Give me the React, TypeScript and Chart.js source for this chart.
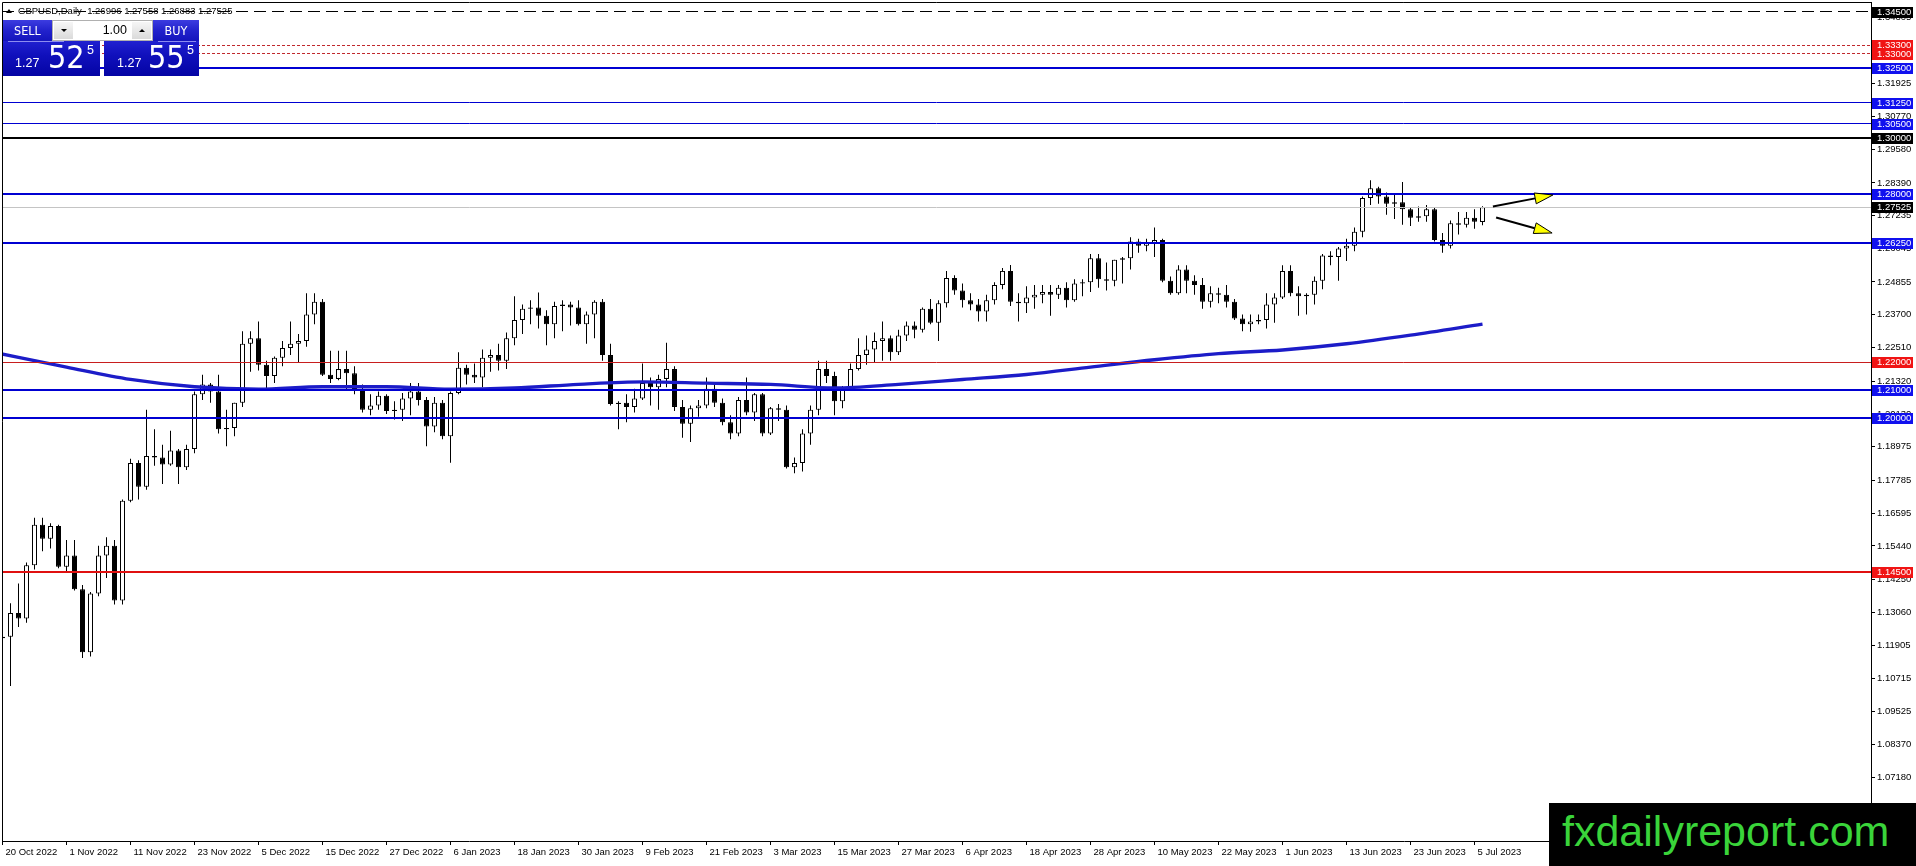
import React, { useEffect, useRef } from 'react';
import { Chart, registerables } from 'chart.js';

Chart.register(...registerables);

type OHLC = [number, number, number, number]; // open, high, low, close

const SYMBOL = 'GBPUSD';
const TIMEFRAME = 'Daily';
const BID = 1.27525;
const ASK = 1.27555;
const LOT = '1.00';

const OCT_2022: OHLC[] = [
  [1.1215, 1.1337, 1.1160, 1.1220],
  [1.1220, 1.1340, 1.1045, 1.1305],
  [1.1305, 1.1410, 1.1255, 1.1285],
  [1.1285, 1.1485, 1.1270, 1.1475],
  [1.1475, 1.1645, 1.1460, 1.1620],
  [1.1620, 1.1645, 1.1525, 1.1570],
  [1.1570, 1.1625, 1.1535, 1.1615],
  [1.1615, 1.1620, 1.1465, 1.1470],
];
const NOV_2022: OHLC[] = [
  [1.1470, 1.1565, 1.1450, 1.1510],
  [1.1510, 1.1565, 1.1385, 1.1390],
  [1.1390, 1.1405, 1.1145, 1.1165],
  [1.1165, 1.1380, 1.1150, 1.1375],
  [1.1375, 1.1545, 1.1365, 1.1510],
  [1.1510, 1.1575, 1.1430, 1.1545],
  [1.1545, 1.1565, 1.1335, 1.1350],
  [1.1350, 1.1710, 1.1335, 1.1705],
  [1.1705, 1.1855, 1.1700, 1.1840],
  [1.1840, 1.1850, 1.1710, 1.1755],
  [1.1755, 1.2030, 1.1745, 1.1865],
  [1.1865, 1.1960, 1.1830, 1.1860],
  [1.1860, 1.1905, 1.1765, 1.1835],
  [1.1835, 1.1955, 1.1830, 1.1885],
  [1.1885, 1.1890, 1.1765, 1.1825],
  [1.1825, 1.1905, 1.1815, 1.1890],
  [1.1890, 1.2095, 1.1875, 1.2085],
  [1.2085, 1.2155, 1.2065, 1.2120],
  [1.2120, 1.2125, 1.2055, 1.2095],
  [1.2095, 1.2155, 1.1945, 1.1960],
  [1.1960, 1.2030, 1.1900, 1.1965],
  [1.1965, 1.2055, 1.1935, 1.2055],
];
const DEC_2022: OHLC[] = [
  [1.2055, 1.2310, 1.2040, 1.2265],
  [1.2265, 1.2310, 1.2165, 1.2285],
  [1.2285, 1.2345, 1.2170, 1.2190],
  [1.2190, 1.2205, 1.2105, 1.2150],
  [1.2150, 1.2220, 1.2125, 1.2215],
  [1.2215, 1.2275, 1.2185, 1.2250],
  [1.2250, 1.2345, 1.2225, 1.2265],
  [1.2265, 1.2300, 1.2200, 1.2275],
  [1.2275, 1.2445, 1.2255, 1.2370],
  [1.2370, 1.2445, 1.2335, 1.2415],
  [1.2415, 1.2425, 1.2150, 1.2155],
  [1.2155, 1.2240, 1.2125, 1.2140],
  [1.2140, 1.2240, 1.2135, 1.2175],
  [1.2175, 1.2240, 1.2100, 1.2160],
  [1.2160, 1.2185, 1.2085, 1.2100],
  [1.2100, 1.2120, 1.2020, 1.2030],
  [1.2030, 1.2085, 1.2010, 1.2045],
  [1.2045, 1.2095, 1.2030, 1.2080],
  [1.2080, 1.2085, 1.2015, 1.2025],
  [1.2025, 1.2060, 1.1995, 1.2030],
  [1.2030, 1.2090, 1.1990, 1.2070],
  [1.2070, 1.2125, 1.2010, 1.2095],
];
const JAN_2023: OHLC[] = [
  [1.2095, 1.2125, 1.2045, 1.2065],
  [1.2065, 1.2075, 1.1900, 1.1970],
  [1.1970, 1.2075, 1.1950, 1.2055],
  [1.2055, 1.2065, 1.1925, 1.1935],
  [1.1935, 1.2095, 1.1841, 1.2090],
  [1.2090, 1.2235, 1.2085, 1.2180],
  [1.2180, 1.2190, 1.2120, 1.2155],
  [1.2155, 1.2195, 1.2125, 1.2145],
  [1.2145, 1.2245, 1.2110, 1.2215],
  [1.2215, 1.2245, 1.2165, 1.2225],
  [1.2225, 1.2265, 1.2170, 1.2205],
  [1.2205, 1.2305, 1.2175, 1.2285],
  [1.2285, 1.2435, 1.2260, 1.2350],
  [1.2350, 1.2405, 1.2300, 1.2390],
  [1.2390, 1.2420, 1.2335, 1.2395],
  [1.2395, 1.2448, 1.2320, 1.2365],
  [1.2365, 1.2385, 1.2260, 1.2335],
  [1.2335, 1.2415, 1.2285, 1.2400],
  [1.2400, 1.2420, 1.2310, 1.2405],
  [1.2405, 1.2415, 1.2330, 1.2395],
  [1.2395, 1.2420, 1.2330, 1.2335],
  [1.2335, 1.2380, 1.2265, 1.2370],
];
const FEB_2023: OHLC[] = [
  [1.2370, 1.2420, 1.2285, 1.2415],
  [1.2415, 1.2425, 1.2205, 1.2225],
  [1.2225, 1.2265, 1.2045, 1.2050],
  [1.2050, 1.2060, 1.1960, 1.2055],
  [1.2055, 1.2085, 1.1985, 1.2040],
  [1.2040, 1.2105, 1.2020, 1.2070],
  [1.2070, 1.2195, 1.2065, 1.2125],
  [1.2125, 1.2145, 1.2045, 1.2110],
  [1.2110, 1.2155, 1.2030, 1.2140],
  [1.2140, 1.2269, 1.2110, 1.2175],
  [1.2175, 1.2185, 1.2025, 1.2040],
  [1.2040, 1.2065, 1.1930, 1.1980],
  [1.1980, 1.2045, 1.1915, 1.2035],
  [1.2035, 1.2065, 1.2005, 1.2045],
  [1.2045, 1.2145, 1.2035, 1.2105],
  [1.2105, 1.2125, 1.2040, 1.2055],
  [1.2055, 1.2070, 1.1975, 1.1985],
  [1.1985, 1.2010, 1.1925, 1.1945],
  [1.1945, 1.2075, 1.1935, 1.2065],
  [1.2065, 1.2145, 1.2010, 1.2020],
];
const MAR_2023: OHLC[] = [
  [1.2020, 1.2090, 1.1990, 1.2085],
  [1.2085, 1.2090, 1.1935, 1.1945],
  [1.1945, 1.2040, 1.1940, 1.2035],
  [1.2035, 1.2050, 1.1990, 1.2030],
  [1.2030, 1.2045, 1.1820, 1.1825],
  [1.1825, 1.1860, 1.1803, 1.1840],
  [1.1840, 1.1960, 1.1810, 1.1945],
  [1.1945, 1.2045, 1.1905, 1.2030],
  [1.2030, 1.2205, 1.2010, 1.2175],
  [1.2175, 1.2205, 1.2125, 1.2150],
  [1.2150, 1.2165, 1.2010, 1.2060],
  [1.2060, 1.2115, 1.2035, 1.2110],
  [1.2110, 1.2195, 1.2100, 1.2175],
  [1.2175, 1.2285, 1.2170, 1.2225],
  [1.2225, 1.2295, 1.2190, 1.2245],
  [1.2245, 1.2305, 1.2200, 1.2275],
  [1.2275, 1.2345, 1.2205, 1.2285],
  [1.2285, 1.2295, 1.2205, 1.2235],
  [1.2235, 1.2315, 1.2225, 1.2295],
  [1.2295, 1.2345, 1.2275, 1.2330],
  [1.2330, 1.2345, 1.2285, 1.2315],
  [1.2315, 1.2395, 1.2305, 1.2390],
  [1.2390, 1.2425, 1.2335, 1.2340],
];
const APR_2023: OHLC[] = [
  [1.2340, 1.2420, 1.2275, 1.2410],
  [1.2410, 1.2525, 1.2395, 1.2500],
  [1.2500, 1.2510, 1.2440, 1.2455],
  [1.2455, 1.2480, 1.2395, 1.2420],
  [1.2420, 1.2445, 1.2385, 1.2405],
  [1.2405, 1.2425, 1.2345, 1.2380],
  [1.2380, 1.2440, 1.2345, 1.2420],
  [1.2420, 1.2485, 1.2405, 1.2475],
  [1.2475, 1.2535, 1.2460, 1.2525],
  [1.2525, 1.2546, 1.2400, 1.2415],
  [1.2415, 1.2445, 1.2345, 1.2410],
  [1.2410, 1.2470, 1.2375, 1.2430],
  [1.2430, 1.2475, 1.2390, 1.2440],
  [1.2440, 1.2475, 1.2410, 1.2450],
  [1.2450, 1.2475, 1.2365, 1.2440],
  [1.2440, 1.2475, 1.2425, 1.2465],
  [1.2465, 1.2485, 1.2395, 1.2420],
  [1.2420, 1.2495, 1.2415, 1.2480],
  [1.2480, 1.2495, 1.2435, 1.2485],
  [1.2485, 1.2585, 1.2450, 1.2570],
];
const MAY_2023: OHLC[] = [
  [1.2570, 1.2585, 1.2465, 1.2495],
  [1.2495, 1.2555, 1.2455, 1.2490],
  [1.2490, 1.2565, 1.2470, 1.2565],
  [1.2565, 1.2575, 1.2480, 1.2570],
  [1.2570, 1.2645, 1.2530, 1.2630],
  [1.2630, 1.2640, 1.2590, 1.2615],
  [1.2615, 1.2640, 1.2595, 1.2625],
  [1.2625, 1.2680, 1.2575, 1.2635],
  [1.2635, 1.2640, 1.2485, 1.2490],
  [1.2490, 1.2505, 1.2440, 1.2445],
  [1.2445, 1.2545, 1.2440, 1.2530],
  [1.2530, 1.2545, 1.2445, 1.2490],
  [1.2490, 1.2510, 1.2440, 1.2475],
  [1.2475, 1.2500, 1.2390, 1.2415],
  [1.2415, 1.2470, 1.2395, 1.2445],
  [1.2445, 1.2465, 1.2410, 1.2440],
  [1.2440, 1.2475, 1.2395, 1.2415],
  [1.2415, 1.2425, 1.2350, 1.2355],
  [1.2355, 1.2370, 1.2310, 1.2335],
  [1.2335, 1.2370, 1.2308, 1.2345],
  [1.2345, 1.2370, 1.2335, 1.2350],
  [1.2350, 1.2445, 1.2320, 1.2405],
  [1.2405, 1.2445, 1.2340, 1.2430],
];
const JUN_2023: OHLC[] = [
  [1.2430, 1.2545, 1.2425, 1.2525],
  [1.2525, 1.2545, 1.2435, 1.2445],
  [1.2445, 1.2470, 1.2365, 1.2435],
  [1.2435, 1.2445, 1.2370, 1.2440],
  [1.2440, 1.2505, 1.2405, 1.2490],
  [1.2490, 1.2585, 1.2460, 1.2580],
  [1.2580, 1.2595, 1.2545, 1.2575],
  [1.2575, 1.2610, 1.2490, 1.2605],
  [1.2605, 1.2640, 1.2560, 1.2615],
  [1.2615, 1.2680, 1.2595, 1.2665],
  [1.2665, 1.2790, 1.2645, 1.2785],
  [1.2785, 1.2848, 1.2760, 1.2820],
  [1.2820, 1.2825, 1.2765, 1.2790],
  [1.2790, 1.2805, 1.2725, 1.2765],
  [1.2765, 1.2800, 1.2710, 1.2770],
  [1.2770, 1.2842, 1.2690, 1.2745],
  [1.2745, 1.2750, 1.2685, 1.2715],
  [1.2715, 1.2755, 1.2700, 1.2720],
  [1.2720, 1.2760, 1.2700, 1.2745],
  [1.2745, 1.2750, 1.2630, 1.2635],
  [1.2635, 1.2660, 1.2590, 1.2615],
  [1.2615, 1.2705, 1.2605, 1.2695],
];
const JUL_2023: OHLC[] = [
  [1.2695, 1.2735, 1.2655, 1.2690],
  [1.2690, 1.2735, 1.2680, 1.2715],
  [1.2715, 1.2745, 1.2675, 1.2700],
  [1.26996, 1.27558, 1.26883, 1.27525],
];

const CANDLES: OHLC[] = [
  ...OCT_2022, ...NOV_2022, ...DEC_2022, ...JAN_2023, ...FEB_2023,
  ...MAR_2023, ...APR_2023, ...MAY_2023, ...JUN_2023, ...JUL_2023,
];

// Moving average (bar index -> value)
const MA_BARS = [-1, 8, 16, 24, 32, 40, 48, 56, 64, 72, 80, 88, 96, 104, 112, 120, 128, 136, 144, 152, 160, 168, 176, 185];
const MA_VALUES = [1.22345, 1.21819, 1.2138, 1.21117, 1.21029, 1.21117, 1.21117, 1.21029, 1.21073, 1.21205, 1.21292, 1.21249, 1.21205, 1.21073, 1.21205, 1.2138, 1.21556, 1.21819, 1.22082, 1.22301, 1.22432, 1.22651, 1.22958, 1.23353];

const DATE_LABELS = [
  '20 Oct 2022', '1 Nov 2022', '11 Nov 2022', '23 Nov 2022', '5 Dec 2022', '15 Dec 2022',
  '27 Dec 2022', '6 Jan 2023', '18 Jan 2023', '30 Jan 2023', '9 Feb 2023', '21 Feb 2023',
  '3 Mar 2023', '15 Mar 2023', '27 Mar 2023', '6 Apr 2023', '18 Apr 2023', '28 Apr 2023',
  '10 May 2023', '22 May 2023', '1 Jun 2023', '13 Jun 2023', '23 Jun 2023', '5 Jul 2023',
];
const DATE_TICK_BARS = DATE_LABELS.map((_, k) => k * 8);

const PRICE_TICKS = [
  1.34305, 1.33115, 1.31925, 1.3077, 1.2958, 1.2839, 1.27235, 1.26045, 1.24855, 1.237,
  1.2251, 1.2132, 1.2013, 1.18975, 1.17785, 1.16595, 1.1544, 1.1425, 1.1306, 1.11905,
  1.10715, 1.09525, 1.0837, 1.0718,
];

const LEVEL_PRICES = [1.345, 1.333, 1.33, 1.325, 1.3125, 1.305, 1.3, 1.28, 1.2625, 1.22, 1.21, 1.2, 1.145];
const CURRENT_PRICE = 1.27525;

// arrow objects: [bar index, price]
const ARROW_START: [number, number][] = [[186.3, 1.27548], [186.7, 1.27155]];
const ARROW_END: [number, number][] = [[193.8, 1.27958], [193.7, 1.26603]];

// view range
const X_MIN = -0.0625;
const X_MAX = 233.5625;
const Y_MIN = 1.049192;
const Y_MAX = 1.348407;

// ---------- styles ----------
const SANS = '"Liberation Sans", Arial, sans-serif';
const NARROW = '"Liberation Sans Narrow", "DejaVu Sans Condensed", "Liberation Sans", sans-serif';
const LINE_BLUE = '#0000d2';
const BOX_BLUE = '#1010ee';
const BOX_RED = '#f01414';
const LEVEL_STYLES = [
  { color: '#000000', width: 1, dash: [12, 6], box: '#000000' },
  { color: '#c0282d', width: 1, dash: [3, 2], box: BOX_RED },
  { color: '#c0282d', width: 1, dash: [3, 2], box: BOX_RED },
  { color: LINE_BLUE, width: 2, dash: [], box: BOX_BLUE },
  { color: LINE_BLUE, width: 1, dash: [], box: BOX_BLUE },
  { color: LINE_BLUE, width: 1, dash: [], box: BOX_BLUE },
  { color: '#000000', width: 2, dash: [], box: '#000000' },
  { color: LINE_BLUE, width: 2, dash: [], box: BOX_BLUE },
  { color: LINE_BLUE, width: 2, dash: [], box: BOX_BLUE },
  { color: '#c81e1e', width: 1, dash: [], box: BOX_RED },
  { color: LINE_BLUE, width: 2, dash: [], box: BOX_BLUE },
  { color: LINE_BLUE, width: 2, dash: [], box: BOX_BLUE },
  { color: '#e01010', width: 2, dash: [], box: BOX_RED },
];

const mt4Plugin: any = {
  id: 'mt4objects',
  afterDatasetsDraw(chart: any) {
    const { ctx, chartArea: a, scales } = chart;
    const xs = scales.x;
    const ys = scales.y;
    ctx.save();
    ctx.beginPath();
    ctx.rect(a.left, a.top, a.right - a.left, a.bottom - a.top);
    ctx.clip();
    const hline = (price: number, color: string, width: number, dash: number[]) => {
      let py = ys.getPixelForValue(price);
      py = width % 2 ? Math.round(py - 0.5) + 0.5 : Math.round(py);
      ctx.strokeStyle = color;
      ctx.lineWidth = width;
      ctx.setLineDash(dash);
      ctx.beginPath();
      ctx.moveTo(a.left, py);
      ctx.lineTo(a.right, py);
      ctx.stroke();
    };
    hline(CURRENT_PRICE, '#c4c4c4', 1, []);
    LEVEL_PRICES.forEach((p, k) => hline(p, LEVEL_STYLES[k].color, LEVEL_STYLES[k].width, LEVEL_STYLES[k].dash));
    ctx.setLineDash([]);
    ARROW_START.forEach((s, k) => {
      const e = ARROW_END[k];
      const x0 = xs.getPixelForValue(s[0]);
      const y0 = ys.getPixelForValue(s[1]);
      const x1 = xs.getPixelForValue(e[0]);
      const y1 = ys.getPixelForValue(e[1]);
      const ang = Math.atan2(y1 - y0, x1 - x0);
      const L = 18;
      const W = 5.5;
      const bx = x1 - L * Math.cos(ang);
      const by = y1 - L * Math.sin(ang);
      ctx.strokeStyle = '#000';
      ctx.lineWidth = 2;
      ctx.beginPath();
      ctx.moveTo(x0, y0);
      ctx.lineTo(bx, by);
      ctx.stroke();
      ctx.fillStyle = '#ffff00';
      ctx.lineWidth = 1;
      ctx.beginPath();
      ctx.moveTo(x1, y1);
      ctx.lineTo(bx + W * Math.sin(ang), by - W * Math.cos(ang));
      ctx.lineTo(bx - W * Math.sin(ang), by + W * Math.cos(ang));
      ctx.closePath();
      ctx.fill();
      ctx.stroke();
    });
    ctx.restore();
  },
  afterDraw(chart: any) {
    const { ctx, chartArea: a, scales } = chart;
    const ys = scales.y;
    ctx.save();
    // frame (left & top)
    ctx.strokeStyle = '#000';
    ctx.lineWidth = 1;
    ctx.beginPath();
    ctx.moveTo(a.left + 0.5, a.bottom);
    ctx.lineTo(a.left + 0.5, a.top + 0.5);
    ctx.lineTo(a.right, a.top + 0.5);
    ctx.stroke();
    // price boxes on the axis
    const box = (price: number, color: string) => {
      const py = Math.round(ys.getPixelForValue(price));
      ctx.fillStyle = color;
      ctx.fillRect(ys.left + 1, py - 5, 41, 11);
      ctx.fillStyle = '#ffffff';
      ctx.font = `9.5px ${SANS}`;
      ctx.textBaseline = 'middle';
      ctx.textAlign = 'left';
      ctx.fillText(price.toFixed(5), ys.left + 6, py + 0.5);
    };
    for (let k = LEVEL_PRICES.length - 1; k >= 0; k--) box(LEVEL_PRICES[k], LEVEL_STYLES[k].box);
    box(CURRENT_PRICE, '#000000');
    ctx.restore();
  },
};

export default function App() {
  const ref = useRef<HTMLCanvasElement>(null);

  useEffect(() => {
    document.body.style.margin = '0';
    const canvas = ref.current;
    if (!canvas) return;
    const bodies = CANDLES.map((c, i) => ({ x: i, y: [c[0], c[3]] }));
    const wicks = CANDLES.map((c, i) => ({ x: i, y: [c[2], c[1]] }));
    const ma = MA_BARS.map((x, k) => ({ x, y: MA_VALUES[k] }));
    const tickFont = { family: SANS, size: 9.5 };
    const chart = new Chart(canvas, {
      type: 'bar',
      data: {
        datasets: [
          {
            type: 'line',
            data: ma,
            borderColor: '#1c1cc8',
            borderWidth: 3.4,
            pointRadius: 0,
            cubicInterpolationMode: 'monotone',
            order: 0,
          } as any,
          {
            type: 'bar',
            data: bodies,
            backgroundColor: (c: any) => {
              const k = CANDLES[c.dataIndex];
              return k && k[3] >= k[0] ? '#ffffff' : '#000000';
            },
            borderColor: '#000000',
            borderWidth: 1,
            borderSkipped: false,
            barThickness: 5,
            grouped: false,
            inflateAmount: 0,
            order: 1,
          } as any,
          {
            type: 'bar',
            data: wicks,
            backgroundColor: '#000000',
            borderWidth: 0,
            barThickness: 1,
            grouped: false,
            inflateAmount: 0,
            order: 2,
          } as any,
        ],
      },
      options: {
        responsive: false,
        animation: false,
        events: [],
        layout: { padding: { left: 2, top: 2, right: 0, bottom: 0 }, autoPadding: false } as any,
        plugins: { legend: { display: false }, tooltip: { enabled: false } },
        scales: {
          x: {
            type: 'linear',
            min: X_MIN,
            max: X_MAX,
            bounds: 'data',
            offset: false,
            grid: { display: true, drawOnChartArea: false, drawTicks: true, tickLength: 4, color: '#000', offset: false },
            border: { display: true, color: '#000', width: 1 },
            ticks: {
              autoSkip: false,
              maxRotation: 0,
              minRotation: 0,
              align: 'start',
              labelOffset: 3,
              padding: 2,
              color: '#000',
              font: tickFont,
              callback: (_v: any, i: number) => DATE_LABELS[i],
            },
            afterBuildTicks: (s: any) => {
              s.ticks = DATE_TICK_BARS.map((v) => ({ value: v }));
            },
            afterFit: (s: any) => {
              s.height = 25;
              s.paddingLeft = 0;
              s.paddingRight = 0;
            },
          } as any,
          y: {
            type: 'linear',
            position: 'right',
            min: Y_MIN,
            max: Y_MAX,
            bounds: 'data',
            grid: { display: true, drawOnChartArea: false, drawTicks: true, tickLength: 4, color: '#000' },
            border: { display: true, color: '#000', width: 1 },
            ticks: {
              autoSkip: false,
              padding: 2,
              color: '#000',
              font: tickFont,
              callback: (v: any) => Number(v).toFixed(5),
            },
            afterBuildTicks: (s: any) => {
              s.ticks = PRICE_TICKS.map((v) => ({ value: v }));
            },
            afterFit: (s: any) => {
              s.width = 45;
              s.paddingTop = 0;
              s.paddingBottom = 0;
            },
          } as any,
        },
      },
      plugins: [mt4Plugin],
    } as any);
    return () => chart.destroy();
  }, []);

  const last = CANDLES[CANDLES.length - 1];
  const header = `${SYMBOL},${TIMEFRAME}  ${last.map((v) => v.toFixed(5)).join(' ')}`;
  const bid = BID.toFixed(5);
  const ask = ASK.toFixed(5);
  const blueTop = 'linear-gradient(to bottom, #3c3ce0 0%, #2222cc 50%, #1414bc 100%)';
  const blueBox = 'linear-gradient(to bottom, #2020d0 0%, #1010bc 40%, #0404a4 100%)';
  const abs = (o: React.CSSProperties): React.CSSProperties => ({ position: 'absolute', ...o });
  const triDown = { width: 0, height: 0, borderLeft: '3px solid transparent', borderRight: '3px solid transparent', borderTop: '3px solid #000' };
  const triUp = { width: 0, height: 0, borderLeft: '3px solid transparent', borderRight: '3px solid transparent', borderBottom: '3px solid #000' };

  return (
    <div style={{ position: 'fixed', left: 0, top: 0, width: 1916, height: 866, background: '#fff', overflow: 'hidden' }}>
      <canvas ref={ref} width={1916} height={866} style={{ position: 'absolute', left: 0, top: 0, display: 'block' }} />

      {/* header */}
      <div style={abs({ left: 6, top: 9, ...triUp, borderBottom: '4px solid #000' })} />
      <div style={abs({ left: 18, top: 5, font: `9.5px/12px ${SANS}`, color: '#000', whiteSpace: 'pre' })}>{header}</div>

      {/* one-click trading panel */}
      <div style={abs({ left: 3, top: 20, width: 49, height: 21, background: blueTop, color: '#fff', font: `12.5px/21px ${NARROW}`, textAlign: 'center' })}>SELL</div>
      <div style={abs({ left: 52, top: 20, width: 101, height: 21, background: '#fff', boxSizing: 'border-box', border: '1px solid #b0b0b0' })}>
        <div style={abs({ left: 1, top: 1, width: 19, height: 17, background: 'linear-gradient(#f6f6f6,#dadada)', display: 'flex', alignItems: 'center', justifyContent: 'center' })}>
          <div style={triDown} />
        </div>
        <div style={abs({ right: 25, top: 0, font: `12.5px/19px ${SANS}`, color: '#000' })}>{LOT}</div>
        <div style={abs({ right: 1, top: 1, width: 19, height: 17, background: 'linear-gradient(#f6f6f6,#dadada)', display: 'flex', alignItems: 'center', justifyContent: 'center' })}>
          <div style={triUp} />
        </div>
      </div>
      <div style={abs({ left: 153, top: 20, width: 46, height: 21, background: blueTop, color: '#fff', font: `12.5px/21px ${NARROW}`, textAlign: 'center' })}>BUY</div>

      <div style={abs({ left: 3, top: 41, width: 97, height: 35, background: blueBox })} />
      <div style={abs({ left: 104, top: 41, width: 95, height: 35, background: blueBox })} />
      <div style={abs({ left: 8, top: 41, width: 56, height: 1, background: '#8c8cf0' })} />
      <div style={abs({ left: 158, top: 41, width: 38, height: 1, background: '#8c8cf0' })} />

      <div style={abs({ left: 15, top: 57, font: `12.5px/12.5px ${SANS}`, color: '#fff' })}>{bid.slice(0, 4)}</div>
      <div style={abs({ left: 48, top: 41, font: `32px/32px ${NARROW}`, color: '#fff' })}>{bid.slice(4, 6)}</div>
      <div style={abs({ left: 87, top: 44, font: `12.5px/12.5px ${SANS}`, color: '#fff' })}>{bid.slice(6)}</div>

      <div style={abs({ left: 117, top: 57, font: `12.5px/12.5px ${SANS}`, color: '#fff' })}>{ask.slice(0, 4)}</div>
      <div style={abs({ left: 148, top: 41, font: `32px/32px ${NARROW}`, color: '#fff' })}>{ask.slice(4, 6)}</div>
      <div style={abs({ left: 187, top: 44, font: `12.5px/12.5px ${SANS}`, color: '#fff' })}>{ask.slice(6)}</div>

      {/* watermark */}
      <div style={abs({ left: 1549, top: 803, width: 367, height: 63, background: '#000' })}>
        <div style={abs({ left: 13, top: 7, font: `43px/43px ${SANS}`, color: '#3ad43a', whiteSpace: 'nowrap' })}>fxdailyreport.com</div>
      </div>
    </div>
  );
}
